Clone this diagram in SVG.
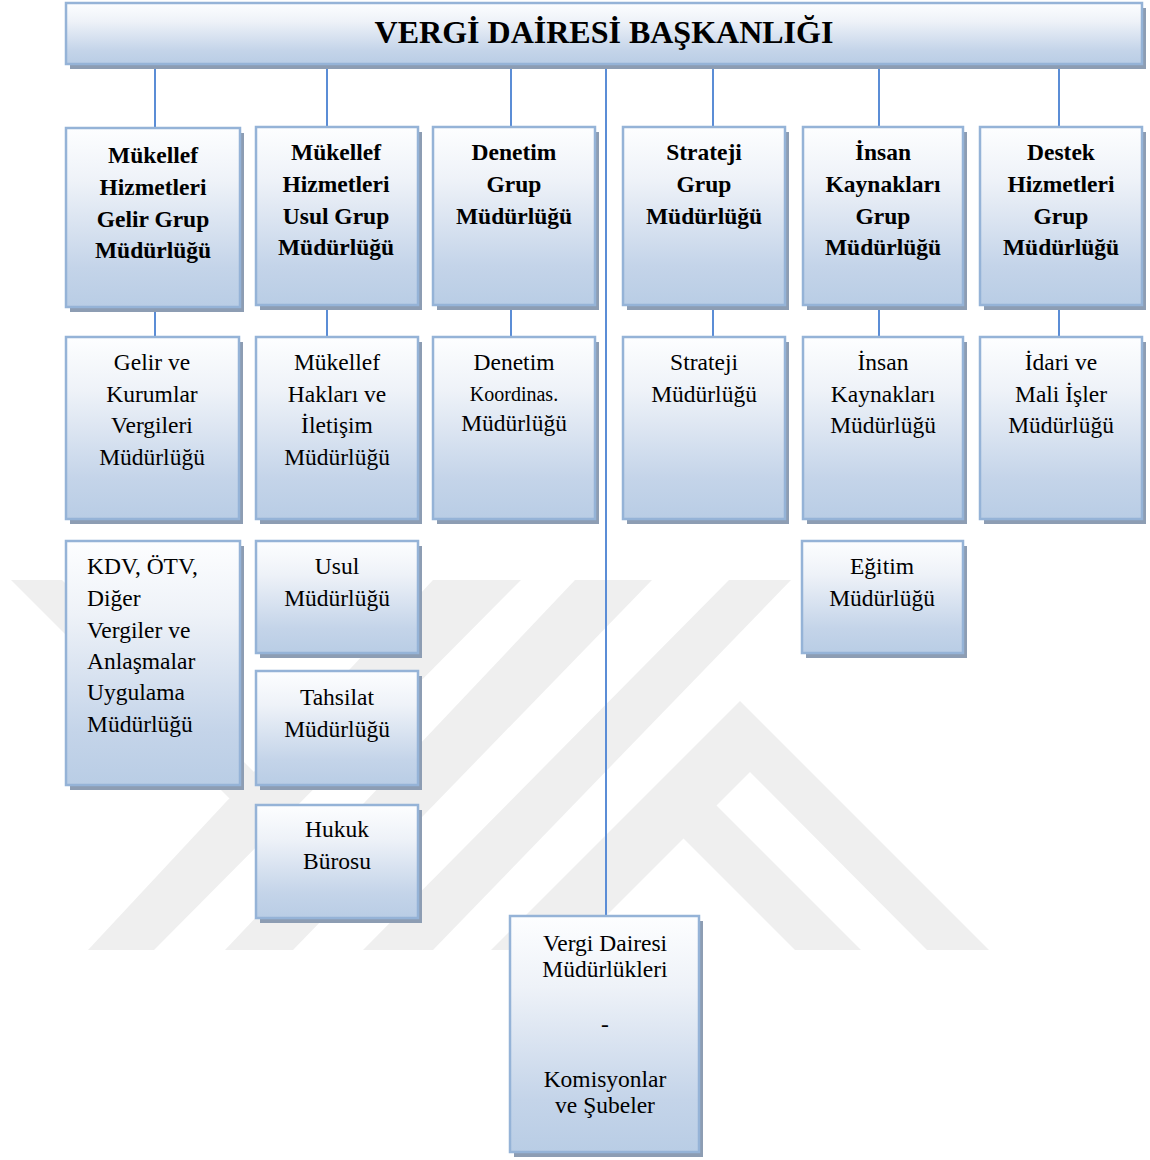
<svg xmlns="http://www.w3.org/2000/svg" width="1150" height="1160" viewBox="0 0 1150 1160">
<defs>
<linearGradient id="g" x1="0" y1="0" x2="0" y2="1">
<stop offset="0" stop-color="#fdfeff"/>
<stop offset="0.3" stop-color="#eef2f8"/>
<stop offset="0.78" stop-color="#c4d4e9"/>
<stop offset="1" stop-color="#b9cde5"/>
</linearGradient>
<style>
.sh{fill:#8d9db3}
.bx{fill:url(#g);stroke:#95b3d7;stroke-width:2.5}
.c{stroke:#5b8dd6;stroke-width:2;fill:none}
.wm{fill:#efefef}
text{font-family:"Liberation Serif","Times New Roman",serif;fill:#000;text-anchor:middle}
.b{font-weight:bold;font-size:23.5px}
.r{font-size:23.5px}
.t{font-weight:bold;font-size:32px}
.l{text-anchor:start}
</style>
</defs>
<rect width="1150" height="1160" fill="#ffffff"/>
<g id="watermark">
<polygon class="wm" points="11,580 62,580 280,798 229,798"/>
<polygon class="wm" points="433,580 521,580 154,950 88,950"/>
<polygon class="wm" points="575,580 652,580 293,950 225,950"/>
<polygon class="wm" points="729,580 791,580 433,950 363,950"/>
<polygon class="wm" points="491,950 740,701 989,950 927,950 750,772 572,950"/>
<polygon class="wm" points="650,805 716,805 861,950 795,950"/>
</g>
<g id="connectors">
<line class="c" x1="155" y1="64" x2="155" y2="128"/>
<line class="c" x1="327" y1="64" x2="327" y2="127"/>
<line class="c" x1="511" y1="64" x2="511" y2="127"/>
<line class="c" x1="713" y1="64" x2="713" y2="127"/>
<line class="c" x1="879" y1="64" x2="879" y2="127"/>
<line class="c" x1="1059" y1="64" x2="1059" y2="127"/>
<line class="c" x1="155" y1="307" x2="155" y2="337"/>
<line class="c" x1="327" y1="305" x2="327" y2="337"/>
<line class="c" x1="511" y1="305" x2="511" y2="337"/>
<line class="c" x1="713" y1="305" x2="713" y2="337"/>
<line class="c" x1="879" y1="305" x2="879" y2="337"/>
<line class="c" x1="1059" y1="305" x2="1059" y2="337"/>
<line class="c" x1="606" y1="64" x2="606" y2="916"/>
</g>
<g id="baskanlik">
<rect class="sh" x="70" y="8" width="1076" height="61"/>
<rect class="bx" x="66" y="3" width="1076" height="61"/>
<text class="t" x="604" y="43">VERGİ DAİRESİ BAŞKANLIĞI</text>
</g>
<g id="gelir-grup">
<rect class="sh" x="70" y="133" width="174" height="179"/>
<rect class="bx" x="66" y="128" width="174" height="179"/>
<text class="b" x="153" y="163">Mükellef</text>
<text class="b" x="153" y="195">Hizmetleri</text>
<text class="b" x="153" y="227">Gelir Grup</text>
<text class="b" x="153" y="258">Müdürlüğü</text>
</g>
<g id="usul-grup">
<rect class="sh" x="260" y="132" width="162" height="178"/>
<rect class="bx" x="256" y="127" width="162" height="178"/>
<text class="b" x="336" y="160">Mükellef</text>
<text class="b" x="336" y="192">Hizmetleri</text>
<text class="b" x="336" y="224">Usul Grup</text>
<text class="b" x="336" y="255">Müdürlüğü</text>
</g>
<g id="denetim-grup">
<rect class="sh" x="437" y="132" width="162" height="178"/>
<rect class="bx" x="433" y="127" width="162" height="178"/>
<text class="b" x="514" y="160">Denetim</text>
<text class="b" x="514" y="192">Grup</text>
<text class="b" x="514" y="224">Müdürlüğü</text>
</g>
<g id="strateji-grup">
<rect class="sh" x="627" y="132" width="162" height="178"/>
<rect class="bx" x="623" y="127" width="162" height="178"/>
<text class="b" x="704" y="160">Strateji</text>
<text class="b" x="704" y="192">Grup</text>
<text class="b" x="704" y="224">Müdürlüğü</text>
</g>
<g id="insan-grup">
<rect class="sh" x="807" y="132" width="160" height="178"/>
<rect class="bx" x="803" y="127" width="160" height="178"/>
<text class="b" x="883" y="160">İnsan</text>
<text class="b" x="883" y="192">Kaynakları</text>
<text class="b" x="883" y="224">Grup</text>
<text class="b" x="883" y="255">Müdürlüğü</text>
</g>
<g id="destek-grup">
<rect class="sh" x="984" y="132" width="162" height="178"/>
<rect class="bx" x="980" y="127" width="162" height="178"/>
<text class="b" x="1061" y="160">Destek</text>
<text class="b" x="1061" y="192">Hizmetleri</text>
<text class="b" x="1061" y="224">Grup</text>
<text class="b" x="1061" y="255">Müdürlüğü</text>
</g>
<g id="gelir-kurumlar">
<rect class="sh" x="70" y="342" width="173" height="182"/>
<rect class="bx" x="66" y="337" width="173" height="182"/>
<text class="r" x="152" y="370">Gelir ve</text>
<text class="r" x="152" y="402">Kurumlar</text>
<text class="r" x="152" y="433">Vergileri</text>
<text class="r" x="152" y="465">Müdürlüğü</text>
</g>
<g id="mukellef-haklari">
<rect class="sh" x="260" y="342" width="162" height="182"/>
<rect class="bx" x="256" y="337" width="162" height="182"/>
<text class="r" x="337" y="370">Mükellef</text>
<text class="r" x="337" y="402">Hakları ve</text>
<text class="r" x="337" y="433">İletişim</text>
<text class="r" x="337" y="465">Müdürlüğü</text>
</g>
<g id="denetim-koordinasyon">
<rect class="sh" x="437" y="342" width="162" height="182"/>
<rect class="bx" x="433" y="337" width="162" height="182"/>
<text class="r" x="514" y="370">Denetim</text>
<text class="r" x="514" y="401" style="font-size:20px">Koordinas.</text>
<text class="r" x="514" y="431">Müdürlüğü</text>
</g>
<g id="strateji-mudurlugu">
<rect class="sh" x="627" y="342" width="162" height="182"/>
<rect class="bx" x="623" y="337" width="162" height="182"/>
<text class="r" x="704" y="370">Strateji</text>
<text class="r" x="704" y="402">Müdürlüğü</text>
</g>
<g id="insan-kaynaklari-mudurlugu">
<rect class="sh" x="807" y="342" width="160" height="182"/>
<rect class="bx" x="803" y="337" width="160" height="182"/>
<text class="r" x="883" y="370">İnsan</text>
<text class="r" x="883" y="402">Kaynakları</text>
<text class="r" x="883" y="433">Müdürlüğü</text>
</g>
<g id="idari-mali">
<rect class="sh" x="984" y="342" width="162" height="182"/>
<rect class="bx" x="980" y="337" width="162" height="182"/>
<text class="r" x="1061" y="370">İdari ve</text>
<text class="r" x="1061" y="402">Mali İşler</text>
<text class="r" x="1061" y="433">Müdürlüğü</text>
</g>
<g id="kdv-otv">
<rect class="sh" x="70" y="546" width="174" height="244"/>
<rect class="bx" x="66" y="541" width="174" height="244"/>
<text class="r l" x="87" y="574">KDV, ÖTV,</text>
<text class="r l" x="87" y="606">Diğer</text>
<text class="r l" x="87" y="638">Vergiler ve</text>
<text class="r l" x="87" y="669">Anlaşmalar</text>
<text class="r l" x="87" y="700">Uygulama</text>
<text class="r l" x="87" y="732">Müdürlüğü</text>
</g>
<g id="usul-mudurlugu">
<rect class="sh" x="260" y="546" width="162" height="112"/>
<rect class="bx" x="256" y="541" width="162" height="112"/>
<text class="r" x="337" y="574">Usul</text>
<text class="r" x="337" y="606">Müdürlüğü</text>
</g>
<g id="tahsilat-mudurlugu">
<rect class="sh" x="260" y="676" width="162" height="114"/>
<rect class="bx" x="256" y="671" width="162" height="114"/>
<text class="r" x="337" y="705">Tahsilat</text>
<text class="r" x="337" y="737">Müdürlüğü</text>
</g>
<g id="hukuk-burosu">
<rect class="sh" x="260" y="810" width="162" height="113"/>
<rect class="bx" x="256" y="805" width="162" height="113"/>
<text class="r" x="337" y="837">Hukuk</text>
<text class="r" x="337" y="869">Bürosu</text>
</g>
<g id="egitim-mudurlugu">
<rect class="sh" x="806" y="546" width="161" height="112"/>
<rect class="bx" x="802" y="541" width="161" height="112"/>
<text class="r" x="882" y="574">Eğitim</text>
<text class="r" x="882" y="606">Müdürlüğü</text>
</g>
<g id="vergi-dairesi-mudurlukleri">
<rect class="sh" x="514" y="921" width="189" height="236"/>
<rect class="bx" x="510" y="916" width="189" height="236"/>
<text class="r" x="605" y="951">Vergi Dairesi</text>
<text class="r" x="605" y="977">Müdürlükleri</text>
<text class="r" x="605" y="1032">-</text>
<text class="r" x="605" y="1087">Komisyonlar</text>
<text class="r" x="605" y="1113">ve Şubeler</text>
</g>
</svg>
